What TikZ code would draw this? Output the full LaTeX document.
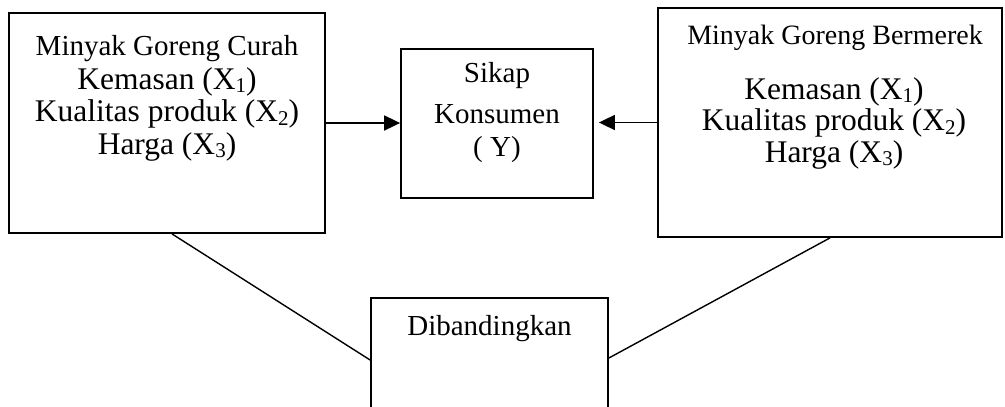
\documentclass[tikz,border=0pt]{standalone}
\usepackage{fontspec}
\setmainfont{Liberation Serif}
\usetikzlibrary{arrows.meta}
\def\bawah#1{\raisebox{-0.12em}{\fontsize{21}{21}\selectfont #1}}
\tikzset{kotak/.style={draw, line width=1.8pt, inner sep=0pt},
	judul/.style={font=\fontsize{29}{33}\selectfont, inner sep=0pt, anchor=base},
	isi/.style={font=\fontsize{31.5}{32.5}\selectfont, align=center, inner sep=0pt, anchor=north},
	panah/.style={line width=1.8pt, -{Triangle[length=16pt,width=15pt]}},
	garis/.style={line width=1.4pt}}

\begin{document}
\begin{tikzpicture}[x=1pt,y=-1pt]
		\clip (0,0) rectangle (1005,407);
		% kotak kiri dan kanan
		\node[kotak, minimum width=316pt, minimum height=220pt] (curah) at (167,123) {};
		\node[kotak, minimum width=344pt, minimum height=229pt] (bermerek) at (830,122.5) {};
		\node[judul] (curahjudul) at (167,55) {Minyak Goreng Curah};
		\node[isi] (curahisi) at (167,67) {Kemasan (X\bawah{1})\\ Kualitas produk (X\bawah{2})\\ Harga (X\bawah{3})};
		\node[judul, font=\fontsize{28}{33}\selectfont] (bermerekjudul) at (835,44) {Minyak Goreng Bermerek};
		\node[isi, font=\fontsize{31.5}{31.5}\selectfont] (bermerekisi) at (834,77) {Kemasan (X\bawah{1})\\ Kualitas produk (X\bawah{2})\\ Harga (X\bawah{3})};
		
		% kotak tengah
		\node[kotak, minimum width=192pt, minimum height=149pt] (sikap) at (497,123.5) {};
		\node[isi, font=\fontsize{29}{33}\selectfont] (sikapisi) at (497,62) {Sikap\\[8pt] Konsumen\\ ( Y)};
		\node[kotak, minimum width=237pt, minimum height=200pt, anchor=north] (banding) at (489.5,297) {};
		\node[judul] (bandingjudul) at (489.5,335) {Dibandingkan};
		
		\draw[panah] (curah.east) -- (curah.east -| sikap.west);
		\draw[panah, shorten >=5pt] (bermerek.west) -- (bermerek.west -| sikap.east);
		\draw[garis] ([xshift=5pt]curah.south) -- ([yshift=-63pt]banding.north west);
		\draw[garis] (bermerek.south) -- ([yshift=-61pt]banding.north east);
		\end{tikzpicture}
\end{document}
